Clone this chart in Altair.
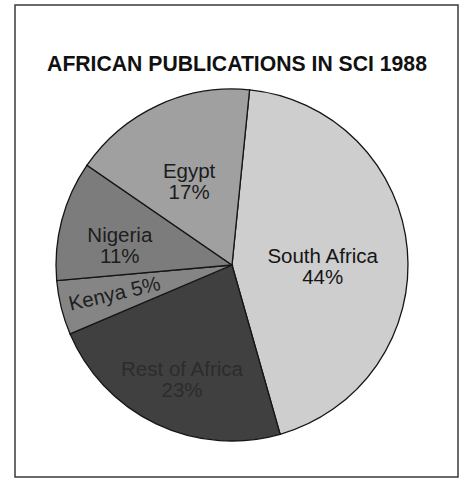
import math
import altair as alt
import pandas as pd

# data
countries = ["South Africa", "Rest of Africa", "Kenya", "Nigeria", "Egypt"]
shares = [44, 23, 5, 11, 17]
pct_labels = ["44%", "23%", "5%", "11%", "17%"]
title_text = "AFRICAN PUBLICATIONS IN SCI 1988"

# styling / layout (not data)
fills = ["#cecece", "#404040", "#858585", "#7c7c7c", "#a0a0a0"]
label_colors = ["#151515", "#2c2c2c", "#1e1e1e", "#1d1d1d", "#1c1c1c"]
label_radius = [91, 116, 121, 116, 102]
label_angle = [0, 0, 347, 0, 0]
label_sep = ["\n", "\n", " ", "\n", "\n"]

df = pd.DataFrame({
    "country": countries,
    "share": shares,
    "idx": list(range(len(countries))),
    "label": [c + s + p for c, s, p in zip(countries, label_sep, pct_labels)],
    "lr": label_radius,
    "ang": label_angle,
})

cx, cy = 217, 260
start = 0.1
theta_scale = alt.Scale(range=[start, start + 2 * math.pi])
font = "Liberation Sans"

base = alt.Chart(df)

arcs = base.mark_arc(outerRadius=176, stroke="#151515", strokeWidth=1.3).encode(
    theta=alt.Theta("share:Q", stack=True, scale=theta_scale),
    color=alt.Color("country:N", scale=alt.Scale(domain=countries, range=fills), legend=None),
    order=alt.Order("idx:Q"),
    x=alt.value(cx),
    y=alt.value(cy),
)

labels = base.transform_stack(
    stack="share", as_=["s0", "s1"], groupby=[], sort=[alt.SortField("idx", order="ascending")]
).transform_joinaggregate(
    total="sum(share)"
).transform_calculate(
    t=f"{start} + (datum.s0 + datum.s1) / 2 / datum.total * 2 * PI",
).transform_calculate(
    px=f"{cx} + datum.lr * sin(datum.t)",
    py=f"{cy} - datum.lr * cos(datum.t)",
).mark_text(
    font=font, fontSize=20.5, lineBreak="\n", lineHeight=21, align="center", baseline="middle"
).encode(
    x=alt.X("px:Q", scale=None, axis=None),
    y=alt.Y("py:Q", scale=None, axis=None),
    angle=alt.Angle("ang:Q", scale=None),
    text="label:N",
    fill=alt.Fill("country:N", scale=alt.Scale(domain=countries, range=label_colors), legend=None),
)

title = alt.Chart(pd.DataFrame({"t": [title_text]})).mark_text(
    font=font, fontSize=21.2, fontWeight="bold", color="#111111", align="center", baseline="middle"
).encode(text="t:N", x=alt.value(222), y=alt.value(60))

chart = alt.layer(arcs, labels, title).properties(
    width=443,
    height=472,
    autosize=alt.AutoSizeParams(type="none"),
    padding={"left": 15, "top": 5, "right": 6, "bottom": 1},
    background="white",
).configure_view(stroke="#3a3a3a", strokeWidth=1.5)

chart.save("out.html", embed_options={"renderer": "svg", "actions": False})
